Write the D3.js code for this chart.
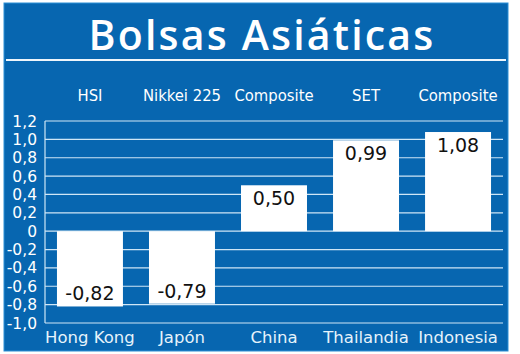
<!DOCTYPE html>
<html>
<head>
<meta charset="utf-8">
<script src="https://cdn.jsdelivr.net/npm/d3@7"></script>
<style>
  body { margin: 0; background: #fff; }
  text { font-family: "DejaVu Sans", sans-serif; }
</style>
</head>
<body>
<div id="chart"></div>
<script>
/* DATA */
const countries = ["Hong Kong", "Japón", "China", "Thailandia", "Indonesia"];
const indexNames = ["HSI", "Nikkei 225", "Composite", "SET", "Composite"];
const values = [-0.82, -0.79, 0.50, 0.99, 1.08];
const yTicks = [-1.0, -0.8, -0.6, -0.4, -0.2, 0, 0.2, 0.4, 0.6, 0.8, 1.0, 1.2];
const title = "Bolsas Asiáticas";

/* CONSTANTS */
const width = 520, height = 354;
const margin = { top: 121, bottom: 31, left: 45, right: 17 };
const blue = "#0766b0";

const fmt = v => v === 0 ? "0" : d3.format(".1f")(v).replace(".", ",").replace("−", "-");
const fmt2 = v => d3.format(".2f")(v).replace(".", ",").replace("−", "-");

const svg = d3.select("#chart").append("svg")
  .attr("width", width)
  .attr("height", height);

// panel
svg.append("rect")
  .attr("x", 4).attr("y", 3)
  .attr("width", 504).attr("height", 348)
  .attr("fill", blue)
  .attr("stroke", "#2d8fd5")
  .attr("stroke-width", 1);

// title
svg.append("text")
  .attr("x", 262).attr("y", 50)
  .attr("text-anchor", "middle")
  .attr("fill", "#fff")
  .style("font-family", "'Open Sans', sans-serif")
  .style("font-size", "41px")
  .style("font-weight", "600")
  .style("letter-spacing", "2.2px")
  .text(title);

svg.append("line")
  .attr("x1", 6).attr("x2", 506)
  .attr("y1", 60).attr("y2", 60)
  .attr("stroke", "#eef6fc")
  .attr("stroke-width", 2.2);

/* SCALES */
const xScale = d3.scaleBand()
  .domain(countries)
  .range([margin.left, width - margin.right])
  .paddingInner(0.283)
  .paddingOuter(0.13);

const yScale = d3.scaleLinear()
  .domain([-1.0, 1.2])
  .range([height - margin.bottom, margin.top]);

// gridlines
svg.append("g")
  .selectAll("line")
  .data(yTicks)
  .join("line")
  .attr("x1", margin.left)
  .attr("x2", width - margin.right)
  .attr("y1", d => yScale(d))
  .attr("y2", d => yScale(d))
  .attr("stroke", "#cfe6f6")
  .attr("stroke-width", 1.2);

// y axis line
svg.append("line")
  .attr("x1", margin.left).attr("x2", margin.left)
  .attr("y1", yScale(1.2)).attr("y2", yScale(-1.0))
  .attr("stroke", "#cfe6f6")
  .attr("stroke-width", 1.2);

// tick labels
svg.append("g")
  .selectAll("text")
  .data(yTicks)
  .join("text")
  .attr("x", 37)
  .attr("y", d => yScale(d))
  .attr("dy", "0.36em")
  .attr("text-anchor", "end")
  .attr("fill", "#fff")
  .style("font-size", "15.5px")
  .text(d => fmt(d));

// bars
svg.append("g")
  .selectAll("rect")
  .data(values)
  .join("rect")
  .attr("x", (d, i) => xScale(countries[i]))
  .attr("width", xScale.bandwidth())
  .attr("y", d => yScale(Math.max(0, d)))
  .attr("height", d => Math.abs(yScale(d) - yScale(0)))
  .attr("fill", "#fff");

// value labels
svg.append("g")
  .selectAll("text")
  .data(values)
  .join("text")
  .attr("x", (d, i) => xScale(countries[i]) + xScale.bandwidth() / 2)
  .attr("y", d => d >= 0 ? yScale(d) + 20 : yScale(d) - 6)
  .attr("text-anchor", "middle")
  .attr("fill", "#111")
  .style("font-size", "19px")
  .text(d => fmt2(d));

// index names on top
svg.append("g")
  .selectAll("text")
  .data(indexNames)
  .join("text")
  .attr("x", (d, i) => xScale(countries[i]) + xScale.bandwidth() / 2)
  .attr("y", 101)
  .attr("text-anchor", "middle")
  .attr("fill", "#fff")
  .style("font-family", "'DejaVu Sans Condensed', 'DejaVu Sans', sans-serif")
  .style("font-stretch", "condensed")
  .style("font-size", "16.5px")
  .text(d => d);

// country names at bottom
svg.append("g")
  .selectAll("text")
  .data(countries)
  .join("text")
  .attr("x", d => xScale(d) + xScale.bandwidth() / 2)
  .attr("y", 343)
  .attr("text-anchor", "middle")
  .attr("fill", "#e6f3fb")
  .style("font-size", "16.5px")
  .text(d => d);
</script>
</body>
</html>
